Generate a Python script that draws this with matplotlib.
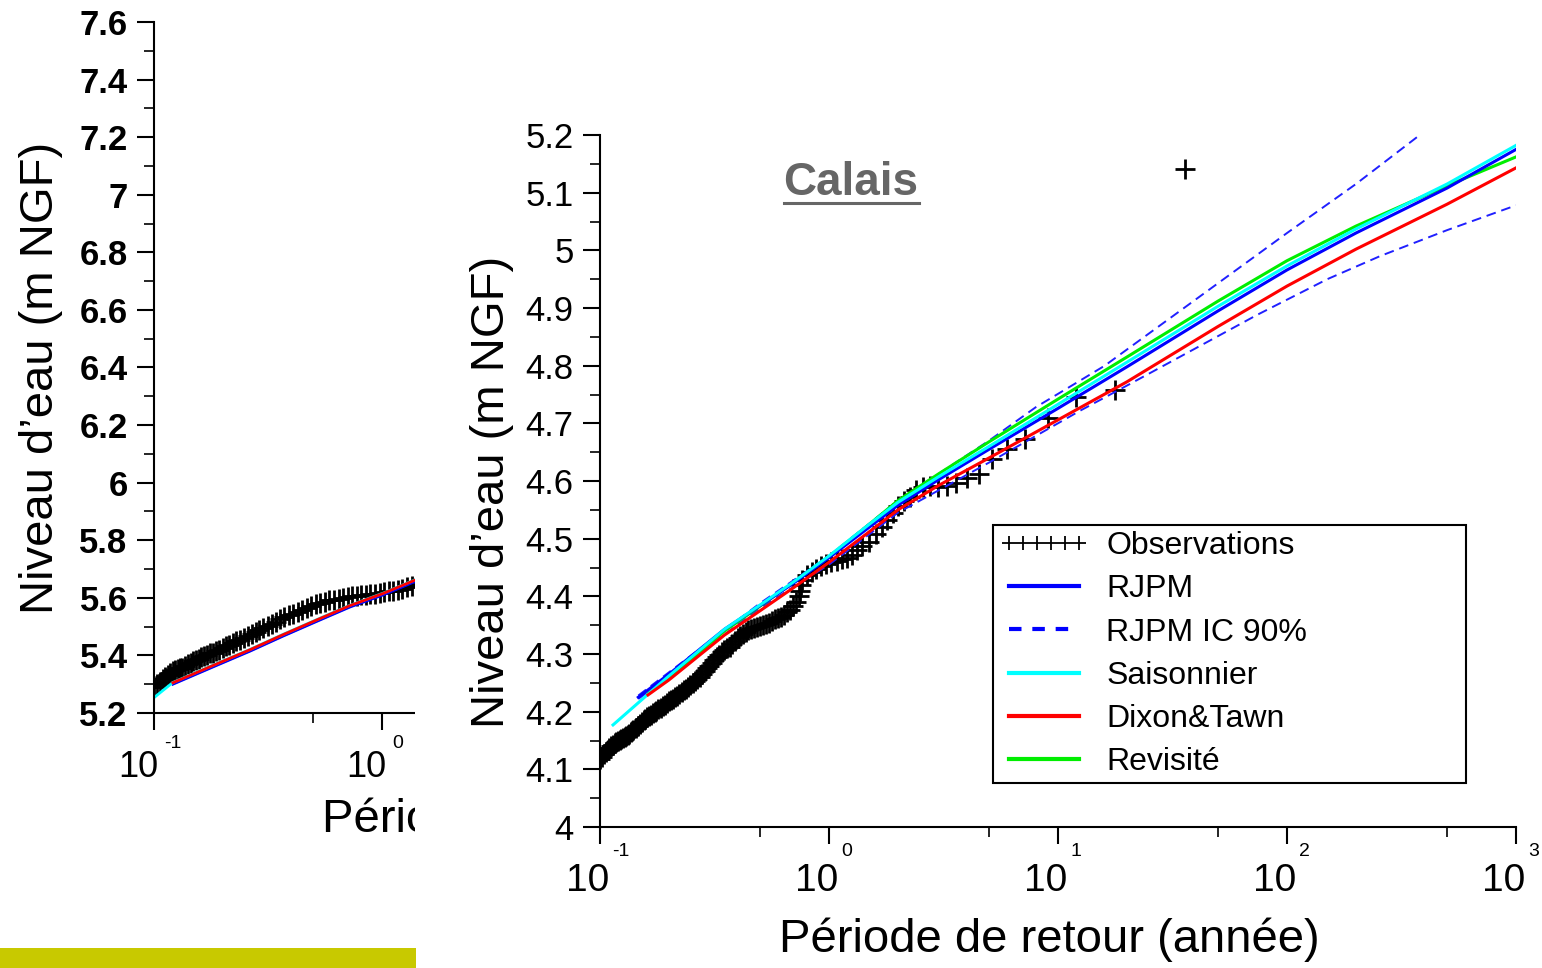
import matplotlib
matplotlib.use("Agg")
import matplotlib.pyplot as plt
from matplotlib import font_manager
from matplotlib.lines import Line2D
from matplotlib.patches import Rectangle
from matplotlib.ticker import FixedLocator, NullFormatter, FormatStrFormatter
from matplotlib.transforms import offset_copy, Bbox, TransformedBbox

plt.rcParams['font.family'] = ['Liberation Sans', 'DejaVu Sans']
names = {f.name for f in font_manager.fontManager.ttflist}
NARROW = 'Liberation Sans Narrow' if 'Liberation Sans Narrow' in names else 'Liberation Sans'

# ---- right panel (Calais) ----
obs_T = [0.100, 0.102, 0.104, 0.106, 0.108, 0.110, 0.112, 0.114, 0.116, 0.118,
         0.120, 0.122, 0.124, 0.126, 0.128, 0.130, 0.132, 0.134, 0.136, 0.138,
         0.140, 0.143, 0.146, 0.149, 0.152, 0.155, 0.158, 0.161, 0.164, 0.167,
         0.170, 0.173, 0.176, 0.180, 0.184, 0.188, 0.192, 0.196, 0.200, 0.204,
         0.208, 0.212, 0.217, 0.222, 0.227, 0.232, 0.237, 0.242, 0.248, 0.254,
         0.260, 0.266, 0.272, 0.279, 0.286, 0.293, 0.300, 0.307, 0.315, 0.323,
         0.331, 0.340, 0.349, 0.358, 0.368, 0.378, 0.388, 0.399, 0.410, 0.421,
         0.433, 0.445, 0.458, 0.471, 0.485, 0.500, 0.515, 0.530, 0.546, 0.563,
         0.580, 0.598, 0.617, 0.636, 0.656, 0.677, 0.698, 0.720, 0.740, 0.750,
         0.755, 0.760, 0.80, 0.84, 0.88, 0.92, 0.97, 1.02, 1.08, 1.14,
         1.20, 1.26, 1.33, 1.40, 1.50, 1.60, 1.71, 1.80, 1.90, 2.0,
         2.12, 2.25, 2.4, 2.57, 2.77, 3.0, 3.27, 3.6, 4.0, 4.5,
         5.14, 6.0, 7.2, 9.0, 12.0, 17.7, 36.0]
obs_H = [4.118, 4.122, 4.127, 4.130, 4.133, 4.137, 4.140, 4.142, 4.145, 4.147,
         4.149, 4.151, 4.152, 4.154, 4.156, 4.157, 4.159, 4.161, 4.164, 4.166,
         4.169, 4.172, 4.176, 4.179, 4.182, 4.185, 4.188, 4.191, 4.193, 4.195,
         4.197, 4.199, 4.202, 4.204, 4.207, 4.210, 4.212, 4.215, 4.218, 4.220,
         4.222, 4.225, 4.228, 4.231, 4.234, 4.237, 4.240, 4.243, 4.246, 4.249,
         4.253, 4.257, 4.260, 4.265, 4.270, 4.275, 4.280, 4.285, 4.290, 4.295,
         4.299, 4.303, 4.307, 4.310, 4.313, 4.317, 4.322, 4.327, 4.332, 4.335,
         4.339, 4.341, 4.343, 4.345, 4.347, 4.348, 4.350, 4.352, 4.354, 4.357,
         4.360, 4.362, 4.365, 4.368, 4.372, 4.377, 4.383, 4.390, 4.400, 4.410,
         4.420, 4.428, 4.437, 4.442, 4.447, 4.452, 4.456, 4.460, 4.462, 4.464,
         4.467, 4.472, 4.480, 4.487, 4.495, 4.508, 4.520, 4.532, 4.545, 4.556,
         4.565, 4.572, 4.585, 4.590, 4.592, 4.590, 4.592, 4.596, 4.605, 4.612,
         4.638, 4.655, 4.672, 4.710, 4.745, 4.758, 5.141]

fit_T = [0.2, 0.35, 0.5, 0.7, 1, 1.5, 2, 3, 5, 10, 20, 50, 100, 200, 500, 1000]
rjpm_T = [0.147] + fit_T
rjpm_H = [4.225, 4.265, 4.343, 4.384, 4.423, 4.467, 4.520, 4.558, 4.602, 4.655,
          4.726, 4.798, 4.895, 4.966, 5.030, 5.108, 5.175]
sais_T = [0.114] + fit_T
sais_H = [4.177, 4.262, 4.343, 4.385, 4.425, 4.470, 4.525, 4.563, 4.607, 4.660,
          4.733, 4.806, 4.903, 4.973, 5.037, 5.115, 5.182]
dixon_T = [0.162] + fit_T
dixon_H = [4.229, 4.255, 4.333, 4.375, 4.415, 4.459, 4.512, 4.550, 4.592, 4.640,
           4.706, 4.772, 4.868, 4.938, 5.002, 5.080, 5.143]
revis_T = [0.162] + fit_T
revis_H = [4.232, 4.258, 4.340, 4.383, 4.424, 4.469, 4.525, 4.566, 4.612, 4.668,
           4.742, 4.815, 4.912, 4.982, 5.042, 5.112, 5.162]
ic_hi_T = [0.147, 0.5, 1, 2, 5, 8, 12, 16, 40, 100, 200, 380]
ic_hi_H = [4.228, 4.388, 4.470, 4.566, 4.670, 4.728, 4.770, 4.800, 4.915, 5.030, 5.115, 5.200]
ic_lo_T = [0.147, 0.5, 1, 2, 5, 12.5, 21, 74, 150, 255, 500, 1000]
ic_lo_H = [4.222, 4.380, 4.455, 4.545, 4.632, 4.722, 4.770, 4.888, 4.950, 4.990, 5.035, 5.078]

# ---- left panel (partly hidden) ----
obsL_T = [0.100, 0.103, 0.106, 0.109, 0.112, 0.115, 0.118, 0.121, 0.124, 0.127,
          0.130, 0.133, 0.137, 0.141, 0.145, 0.149, 0.153, 0.157, 0.161, 0.166,
          0.171, 0.176, 0.181, 0.187, 0.193, 0.200, 0.207, 0.214, 0.222, 0.230,
          0.239, 0.248, 0.258, 0.268, 0.279, 0.290, 0.302, 0.315, 0.328, 0.342,
          0.357, 0.373, 0.390, 0.408, 0.427, 0.447, 0.468, 0.490, 0.513, 0.537,
          0.562, 0.588, 0.616, 0.645, 0.675, 0.707, 0.740, 0.775, 0.812, 0.850,
          0.890, 0.932, 0.976, 1.02, 1.07, 1.12, 1.17, 1.23, 1.29, 1.35, 1.42, 1.49, 1.56]
obsL_H = [5.290, 5.300, 5.309, 5.317, 5.326, 5.333, 5.340, 5.345, 5.349, 5.352,
          5.355, 5.358, 5.363, 5.369, 5.374, 5.379, 5.384, 5.388, 5.393, 5.398,
          5.403, 5.407, 5.410, 5.414, 5.419, 5.425, 5.431, 5.437, 5.443, 5.449,
          5.455, 5.461, 5.467, 5.473, 5.480, 5.487, 5.494, 5.501, 5.508, 5.516,
          5.527, 5.534, 5.540, 5.545, 5.552, 5.559, 5.566, 5.572, 5.578, 5.582,
          5.587, 5.591, 5.594, 5.597, 5.600, 5.603, 5.606, 5.608, 5.610, 5.611,
          5.612, 5.614, 5.616, 5.619, 5.622, 5.625, 5.628, 5.632, 5.636, 5.640, 5.644, 5.648, 5.652]
fitL_T = [0.121, 0.189, 0.264, 0.368, 0.52, 0.723, 1.01, 1.41, 2.0]
saisL_T = [0.101] + fitL_T
saisL_H = [5.256, 5.306, 5.372, 5.421, 5.473, 5.525, 5.574, 5.616, 5.664, 5.71]
rjpmL_H = [5.300, 5.366, 5.415, 5.467, 5.519, 5.568, 5.610, 5.658, 5.704]
dixonL_H = [5.305, 5.371, 5.420, 5.472, 5.524, 5.573, 5.615, 5.663, 5.709]
revisL_H = [5.302, 5.368, 5.417, 5.469, 5.521, 5.570, 5.612, 5.660, 5.706]

W, H = 1542, 968
fig = plt.figure(figsize=(W / 100, H / 100), dpi=100)


def box(x0, y0, x1, y1):
    return [x0 / W, 1 - y1 / H, (x1 - x0) / W, (y1 - y0) / H]


def style(ax, ylo, yhi, ymaj, ymin, bold):
    ax.set_xscale('log')
    ax.set_xlim(0.1, 1000)
    ax.set_ylim(ylo, yhi)
    for s in ('top', 'right'):
        ax.spines[s].set_visible(False)
    for s in ('left', 'bottom'):
        ax.spines[s].set_linewidth(1.5)
    ax.xaxis.set_major_locator(FixedLocator([0.1, 1, 10, 100, 1000]))
    ax.xaxis.set_minor_locator(FixedLocator([0.5, 5, 50, 500]))
    ax.xaxis.set_major_formatter(NullFormatter())
    ax.xaxis.set_minor_formatter(NullFormatter())
    ax.yaxis.set_major_locator(FixedLocator(ymaj))
    ax.yaxis.set_minor_locator(FixedLocator(ymin))
    ax.yaxis.set_major_formatter(FormatStrFormatter('%g'))
    ax.tick_params(which='major', length=12, width=1.5, pad=7, labelsize=25)
    ax.tick_params(which='minor', length=7, width=1.2)
    for lb in ax.get_yticklabels():
        lb.set_fontweight('bold' if bold else 'normal')


def xlabels(ax, exps, dx10, dy10, dxe, dye, size, esize):
    for e in exps:
        t1 = offset_copy(ax.get_xaxis_transform(), fig=fig, x=dx10, y=dy10, units='dots')
        ax.text(10.0 ** e, 0, '10', transform=t1, ha='center', va='top',
                family=NARROW, size=size, clip_on=False)
        t2 = offset_copy(ax.get_xaxis_transform(), fig=fig, x=dxe, y=dye, units='dots')
        ax.text(10.0 ** e, 0, str(e), transform=t2, ha='left', va='center',
                family=NARROW, size=esize, clip_on=False)


# left panel (only its left part shows)
axL = fig.add_axes(box(154, 22, 1066, 713), zorder=0)
style(axL, 5.2, 7.6, [5.2 + 0.2 * i for i in range(13)], [5.3 + 0.2 * i for i in range(12)], True)
axL.plot(obsL_T, obsL_H, ls='none', marker='+', color='k', ms=15, mew=2.0)
axL.plot(fitL_T, revisL_H, color='#00ee00', lw=2)
axL.plot(fitL_T, rjpmL_H, color='#0000ff', lw=2)
axL.plot(saisL_T, saisL_H, color='#00ffff', lw=2)
axL.plot(fitL_T, dixonL_H, color='#ff0000', lw=2)
xlabels(axL, [-1, 0], -16, -37, 10, -30, 26, 14)

# right panel
axR = fig.add_axes(box(600, 135, 1516, 827), zorder=2)
style(axR, 4.0, 5.2, [4.0 + 0.1 * i for i in range(13)], [4.05 + 0.1 * i for i in range(12)], False)
axR.plot(obs_T, obs_H, ls='none', marker='+', color='k', ms=15, mew=2.0)
axR.plot(ic_hi_T, ic_hi_H, color='#2020ff', lw=1.4, ls=(0, (5, 3)))
axR.plot(ic_lo_T, ic_lo_H, color='#2020ff', lw=1.4, ls=(0, (5, 3)))
axR.plot(revis_T, revis_H, color='#00ee00', lw=2.2)
axR.plot(rjpm_T, rjpm_H, color='#0000ff', lw=2.2)
axR.plot(sais_T, sais_H, color='#00ffff', lw=2.2)
axR.plot(dixon_T, dixon_H, color='#ff0000', lw=2.2)
xlabels(axR, [-1, 0, 1, 2, 3], -12, -36, 12, -25, 28, 14)

handles = [
    Line2D([], [], ls='none', marker='+', color='k', ms=10, mew=1.3),
    Line2D([], [], color='#0000ff', lw=3),
    Line2D([], [], color='#0000ff', lw=3, ls=(0, (3.0, 2.6))),
    Line2D([], [], color='#00ffff', lw=3),
    Line2D([], [], color='#ff0000', lw=3),
    Line2D([], [], color='#00ee00', lw=3),
]
labels = ['Observations', 'RJPM', 'RJPM IC 90%', 'Saisonnier', 'Dixon&Tawn', 'Revisité']
x0 = (993 - 600) / 916
y1 = (827 - 525) / 692
leg = axR.legend(handles, labels, loc='upper left', bbox_to_anchor=(x0, 0, (1466 - 993) / 916, y1),
                 mode='expand', numpoints=6, handlelength=2.8, handletextpad=0.55, fontsize=23,
                 labelspacing=0.41, borderpad=0.2, borderaxespad=0, fancybox=False,
                 framealpha=1, edgecolor='k')
leg.get_frame().set_linewidth(1.5)

# white panel that hides the left chart
fig.add_artist(Rectangle((415 / W, 0), 1 - 415 / W, 1, transform=fig.transFigure,
                         facecolor='white', edgecolor='none', zorder=1))
fig.add_artist(Rectangle((0, 0), 416 / W, 20 / H, transform=fig.transFigure,
                         facecolor='#c8c900', edgecolor='none', zorder=4))

ylab = "Niveau d\u2019eau (m NGF)"
xlab = "Période de retour (année)"
fig.text(41 / W, 1 - 378 / H, ylab, rotation=90, ha='center', va='center', family=NARROW, size=34)
xl_left = fig.text(322 / W, 1 - 820 / H, xlab, ha='left', va='center', family=NARROW, size=34, zorder=0.5)
xl_left.set_clip_box(TransformedBbox(Bbox([[0, 0], [415 / W, 1]]), fig.transFigure))
xl_left.set_clip_on(True)
fig.text(492 / W, 1 - 492 / H, ylab, rotation=90, ha='center', va='center', family=NARROW, size=34, zorder=3)
fig.text(1049 / W, 1 - 940 / H, xlab, ha='center', va='center', family=NARROW, size=34, zorder=3)
title = fig.text(851 / W, 1 - 183 / H, 'Calais', ha='center', va='center', weight='bold',
                 color='#666666', size=33, zorder=3)

fig.canvas.draw()
bb = title.get_window_extent()
fig.add_artist(Line2D([bb.x0 / W, bb.x1 / W], [(bb.y0 + 2) / H] * 2, transform=fig.transFigure,
                      color='#666666', lw=2.2, zorder=3))

fig.savefig('out.png', dpi=100)
